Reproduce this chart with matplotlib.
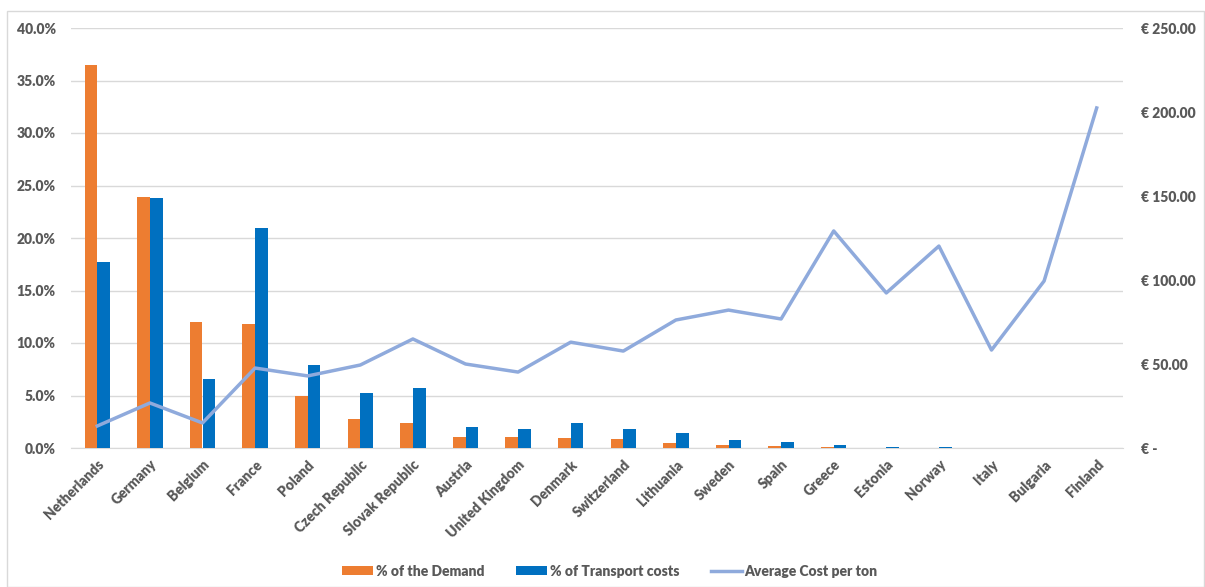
import matplotlib.pyplot as plt
from matplotlib.patches import Rectangle
from matplotlib.ticker import FuncFormatter

countries = ['Netherlands', 'Germany', 'Belgium', 'France', 'Poland', 'Czech Republic',
             'Slovak Republic', 'Austria', 'United Kingdom', 'Denmark', 'Switzerland',
             'Lithuania', 'Sweden', 'Spain', 'Greece', 'Estonia', 'Norway', 'Italy',
             'Bulgaria', 'Finland']
demand = [36.5, 23.9, 12.0, 11.8, 4.95, 2.8, 2.35, 1.05, 1.05, 0.95, 0.85, 0.5, 0.25,
          0.2, 0.05, 0.02, 0.02, 0.02, 0.02, 0.01]
transport = [17.7, 23.8, 6.6, 21.0, 7.9, 5.2, 5.7, 2.0, 1.8, 2.4, 1.8, 1.45, 0.8,
             0.6, 0.3, 0.1, 0.05, 0.03, 0.03, 0.03]
avg_cost = [13.1, 26.8, 14.9, 47.6, 42.9, 49.4, 64.9, 50.0, 45.2, 63.0, 57.7, 76.2,
            82.1, 76.8, 129.2, 92.3, 120.2, 58.3, 99.4, 202.4]

plt.rcParams['font.family'] = ['Lato', 'DejaVu Sans']
plt.rcParams['font.weight'] = 800
txt = '#595959'

fig = plt.figure(figsize=(12.05, 5.87), dpi=100)
fig.patches.append(Rectangle((7 / 1205, 0), 1 - 7 / 1205 - 0.001, 1 - 11 / 587,
                             transform=fig.transFigure, fill=False,
                             edgecolor='#D9D9D9', linewidth=1))
ax = fig.add_axes([71 / 1205, 1 - 448 / 587, (1123 - 71) / 1205, (448 - 28) / 587])
ax2 = ax.twinx()

x = list(range(len(countries)))
w = 0.24
ax.bar([i - w / 2 for i in x], demand, width=w, color='#ED7D31', label='% of the Demand', zorder=3)
ax.bar([i + w / 2 for i in x], transport, width=w, color='#0070C0', label='% of Transport costs', zorder=3)
ax2.plot(x, avg_cost, color='#8FAADC', linewidth=2.5, label='Average Cost per ton')

ax.set_xlim(-0.5, len(countries) - 0.5)
ax.set_ylim(0, 40)
ax.set_yticks(range(0, 41, 5))
ax.yaxis.set_major_formatter(FuncFormatter(lambda v, p: f'{v:.1f}%'))
ax2.set_ylim(0, 250)
ax2.set_yticks(range(0, 251, 50))
ax2.yaxis.set_major_formatter(FuncFormatter(lambda v, p: '€ -' if v == 0 else f'€ {v:.2f}'))

ax.grid(axis='y', color='#D9D9D9', linewidth=1, zorder=0)
ax.set_xticks(x)
ax.set_xticklabels(countries, rotation=45, ha='right', rotation_mode='anchor')
for a in (ax, ax2):
    for s in a.spines.values():
        s.set_visible(False)
    a.tick_params(length=0, labelsize=10, labelcolor=txt)
    for lab in a.get_xticklabels() + a.get_yticklabels():
        lab.set_fontweight(800)
ax.spines['bottom'].set_visible(True)
ax.spines['bottom'].set_color('#D9D9D9')
ax.tick_params(axis='y', pad=11)
ax2.tick_params(axis='y', pad=13)
ax.tick_params(axis='x', pad=7)

h1, l1 = ax.get_legend_handles_labels()
h2, l2 = ax2.get_legend_handles_labels()
fig.legend(h1 + h2, l1 + l2, loc='center', bbox_to_anchor=(610 / 1205, 1 - 571 / 587),
           ncol=3, frameon=False, labelcolor=txt, handlelength=2.2,
           prop={'size': 10, 'weight': 800},
           handleheight=0.6, columnspacing=2.3, handletextpad=0.2)

fig.savefig('out.png', dpi=100)
